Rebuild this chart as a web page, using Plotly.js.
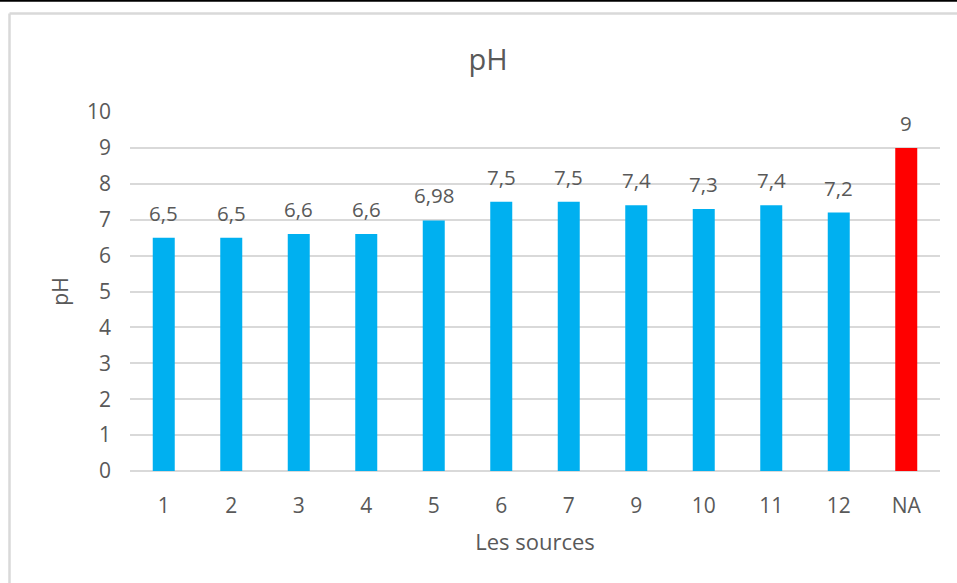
<!DOCTYPE html>
<html>
<head>
<meta charset="utf-8">
<script src="https://cdn.plot.ly/plotly-3.0.1.min.js"></script>
<style>html,body{margin:0;padding:0;background:#fff;}#chart{width:957px;height:583px;}</style>
</head>
<body>
<div id="chart"></div>
<script>
const categories = ['1','2','3','4','5','6','7','9','10','11','12','NA'];
const phValues = [6.5, 6.5, 6.6, 6.6, 6.98, 7.5, 7.5, 7.4, 7.3, 7.4, 7.2, 9];
const barColors = ['#00B0F0','#00B0F0','#00B0F0','#00B0F0','#00B0F0','#00B0F0','#00B0F0','#00B0F0','#00B0F0','#00B0F0','#00B0F0','#FF0000'];
const yTicks = [0,1,2,3,4,5,6,7,8,9,10];

const W = 957, H = 583;
const L = 130, R = 17, T = 112, B = 112;
const pw = W - L - R, ph = H - T - B;
function px2x(p){ return (p - L) / pw; }
function py2y(p){ return (H - B - p) / ph; }

const labels = phValues.map(v => String(v).replace('.', ','));
const textColor = '#595959';
const fontFam = '"Open Sans", sans-serif';

const annotations = categories.map((c, i) => ({
  x: i, y: phValues[i], xref: 'x', yref: 'y',
  text: labels[i], showarrow: false,
  yanchor: 'middle', yshift: 25,
  font: {family: fontFam, size: 20.5, color: textColor}
}));

const data = [{
  type: 'bar',
  x: categories,
  y: phValues,
  marker: {color: barColors},
  hoverinfo: 'x+y'
}];

const layout = {
  width: W, height: H,
  margin: {l: L, r: R, t: T, b: B, pad: 0},
  paper_bgcolor: '#ffffff',
  plot_bgcolor: '#ffffff',
  showlegend: false,
  bargap: 0.674,
  font: {family: fontFam, color: textColor},
  title: {
    text: 'pH',
    font: {family: fontFam, size: 29, color: textColor},
    xref: 'container', yref: 'container',
    x: 488 / W, y: 1 - 60 / H,
    xanchor: 'center', yanchor: 'middle'
  },
  xaxis: {
    type: 'category',
    range: [-0.5, categories.length - 0.5],
    tickfont: {family: fontFam, size: 21, color: textColor},
    ticks: '',
    ticklabelstandoff: 20,
    showline: false,
    showgrid: false,
    title: {text: 'Les sources', font: {family: fontFam, size: 22, color: textColor}, standoff: 16}
  },
  yaxis: {
    range: [0, 10],
    tickvals: yTicks,
    ticktext: yTicks.map(String),
    tickfont: {family: fontFam, size: 21, color: textColor},
    ticks: '',
    ticklabelstandoff: 18,
    showgrid: true,
    gridcolor: '#d9d9d9',
    gridwidth: 1.5,
    zeroline: true,
    zerolinecolor: '#d9d9d9',
    zerolinewidth: 1.5,
    showline: false,
    fixedrange: true,
    title: {text: 'pH', font: {family: fontFam, size: 21, color: textColor}, standoff: 12}
  },
  annotations: annotations,
  shapes: [
    {type: 'line', xref: 'paper', yref: 'paper', x0: px2x(-5), x1: px2x(W + 5), y0: py2y(0.8), y1: py2y(0.8), line: {color: '#000000', width: 2}},
    {type: 'line', xref: 'paper', yref: 'paper', x0: px2x(9.5), x1: px2x(W + 5), y0: py2y(13.5), y1: py2y(13.5), line: {color: '#d9d9d9', width: 2.5}},
    {type: 'line', xref: 'paper', yref: 'paper', x0: px2x(9.5), x1: px2x(9.5), y0: py2y(13.5), y1: py2y(H + 5), line: {color: '#d9d9d9', width: 2.5}}
  ]
};

Plotly.newPlot('chart', data, layout, {displayModeBar: false});
</script>
</body>
</html>
